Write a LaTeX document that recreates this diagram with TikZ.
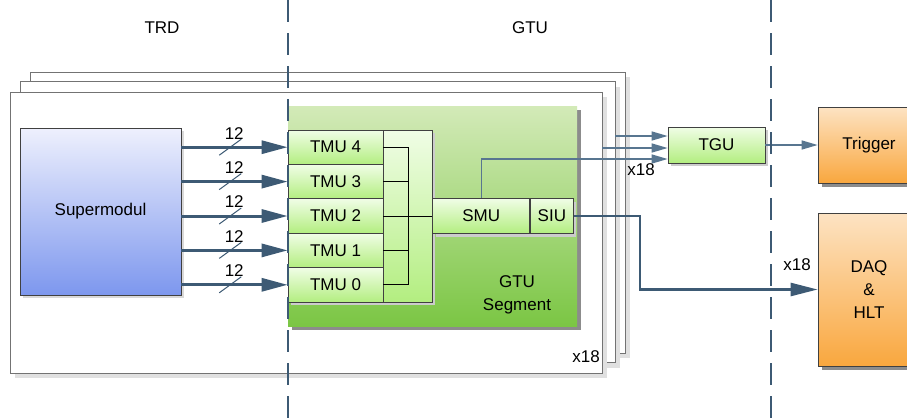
\documentclass[tikz,border=0pt]{standalone}
\usepackage{fontspec}
\setmainfont{Liberation Sans}
\usepackage{xcolor}
\usetikzlibrary{arrows.meta,positioning,shadows}
\definecolor{linkblue}{HTML}{3D5A74}
\definecolor{linklight}{HTML}{587690}
\definecolor{boxline}{HTML}{404040}
\definecolor{greentop}{HTML}{F0FDE6}
\definecolor{greenbot}{HTML}{B3EE80}
\definecolor{segtop}{HTML}{D3EAB8}
\definecolor{segbot}{HTML}{7BC644}
\definecolor{bluetop}{HTML}{EEF0FD}
\definecolor{bluebot}{HTML}{7D97EE}
\definecolor{orangetop}{HTML}{FDE3C3}
\definecolor{orangebot}{HTML}{F9A73E}

\begin{document}
\begin{tikzpicture}[
		x=1pt,y=-1pt,
		line join=miter,
		font=\fontsize{17}{20}\selectfont,
		panel/.style={draw=black!55, fill=white, line width=0.8pt, minimum width=595pt, minimum height=281pt, inner sep=0pt, drop shadow={shadow xshift=5pt, shadow yshift=-5pt, fill=black!12, opacity=1}},
		greenbox/.style={draw=boxline, line width=0.7pt, top color=greentop, bottom color=greenbot, inner sep=0pt, align=center, drop shadow={shadow xshift=3pt, shadow yshift=-3pt, fill=black!20, opacity=1}},
		bluebox/.style={draw=boxline, line width=0.7pt, top color=bluetop, bottom color=bluebot, inner sep=0pt, align=center, drop shadow={shadow xshift=3pt, shadow yshift=-3pt, fill=black!15, opacity=1}},
		orangebox/.style={draw=boxline, line width=0.7pt, top color=orangetop, bottom color=orangebot, inner sep=0pt, align=center, drop shadow={shadow xshift=4pt, shadow yshift=-4pt, fill=black!45, opacity=1}},
		segment/.style={top color=segtop, bottom color=segbot, inner sep=0pt, minimum width=289pt, minimum height=220pt, drop shadow={shadow xshift=4pt, shadow yshift=-4pt, fill=black!45, opacity=1}},
		inlink/.style={-{Triangle[length=26pt,width=13pt]}, line width=3pt, draw=linkblue},
		tgulink/.style={-{Triangle[length=16pt,width=9pt]}, line width=1.4pt, draw=linklight},
		daqlink/.style={-{Triangle[length=27pt,width=13pt]}, line width=2.5pt, draw=linkblue},
		buswidth/.style={line width=1pt, draw=linkblue},
		busline/.style={line width=0.8pt, draw=black},
		divider/.style={line width=2pt, draw=linkblue, dash pattern=on 22pt off 11pt}
	]
	\useasboundingbox (0,0) rectangle (907,418);
	
	% Panels
	\node[panel] (backpanel)  at (327.5,212.5) {};
	\node[panel] (midpanel)   at (317.5,222) {};
	\node[panel, minimum width=592pt] (frontpanel) at (306,232.5) {};
	\node (panelcount) at (586,357) {x18};
	
	% Titles
	\node (trdtitle) at (162,28) {TRD};
	\node (gtutitle) at (530,28) {GTU};
	
	% Supermodul
	\node[bluebox, minimum width=161pt, minimum height=167pt] (supermodul) at (100.5,211.5) {Supermodul};
	
	% GTU segment
	\node[segment] (segment) at (432.5,216) {};
	\node[align=center] (segmentlabel) at (517,295) {GTU\\[3pt]Segment};
	
	\foreach \i/\y in {4/147.2,3/181.6,2/216,1/250.4,0/284.8}
		\node[greenbox, minimum width=95pt, minimum height=34.4pt] (tmu\i) at (335.5,\y) {TMU \i};
	\node[greenbox, minimum width=49pt, minimum height=172pt] (merge) at (407.5,216) {};
	\node[greenbox, minimum width=97pt, minimum height=35pt, right=0pt of merge] (smu) {SMU};
	\node[greenbox, minimum width=43pt, minimum height=35pt, right=0pt of smu] (siu) {SIU};
	
	% Bus inside merge box
	\draw[busline] (tmu4.east) -- ++(25,0) |- (tmu0.east);
	\draw[busline] (tmu3.east) -- ++(25,0);
	\draw[busline] (tmu1.east) -- ++(25,0);
	\draw[busline] (tmu2.east) -- (smu.west);
	
	% Inputs from supermodul
	\foreach \i in {0,...,4}{
		\draw[inlink] (supermodul.east |- tmu\i.west) -- coordinate[pos=0.46] (cut\i) (tmu\i.west);
		\draw[buswidth] ([xshift=-11pt,yshift=-8pt]cut\i) -- ([xshift=11pt,yshift=8pt]cut\i);
		\node (width\i) at ([xshift=4pt,yshift=14pt]cut\i) {12};
	}
	
	% Outside boxes
	\node[greenbox, minimum width=97pt, minimum height=36pt] (tgu) at (716.5,145) {TGU};
	\node[orangebox, minimum width=102pt, minimum height=76pt] (trigger) at (869,145) {Trigger};
	\node[orangebox, minimum width=102pt, minimum height=153pt] (daq) at (869,289.5) {DAQ\\[3pt]\&\\[3pt]HLT};
	
	% Links
	\coordinate (tguin1) at ([yshift=9pt]tgu.west);
	\coordinate (tguin2) at ([yshift=-3pt]tgu.west);
	\coordinate (tguin3) at ([yshift=-14pt]tgu.west);
	\draw[tgulink] (tguin1 -| midpanel.east) -- (tguin1);
	\draw[tgulink] (tguin2 -| frontpanel.east) -- (tguin2);
	\draw[tgulink] (smu.north) |- (tguin3);
	\draw[tgulink] (tgu.east) -- (trigger.west);
	\draw[daqlink] (siu.east) -- ++(66,0) |- (daq.west);
	\node (tgucount) at (641,170) {x18};
	\node (daqcount) at (797,265) {x18};
	
	% Dividers
	\draw[divider] (288,0) -- (288,418);
	\draw[divider] (771,0) -- (771,418);
	
\end{tikzpicture}
\end{document}
